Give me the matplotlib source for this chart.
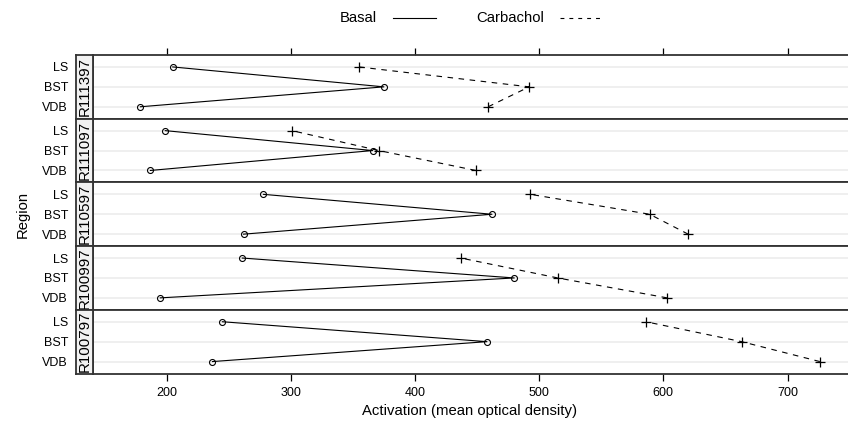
import matplotlib
matplotlib.use("Agg")
import matplotlib.pyplot as plt
from matplotlib.lines import Line2D

plt.rcParams['font.family'] = ['Liberation Sans', 'DejaVu Sans']

# ---- data ----
regions = ["VDB", "BST", "LS"]          # bottom to top within each panel
animals = ["R111397", "R111097", "R110597", "R100997", "R100797"]  # top to bottom
treatments = ["Basal", "Carbachol"]

# values ordered as regions (VDB, BST, LS)
basal = {
    "R111397": [179, 375, 205],
    "R111097": [187, 366, 199],
    "R110597": [262, 462, 278],
    "R100997": [195, 480, 261],
    "R100797": [237, 458, 245],
}
carbachol = {
    "R111397": [459, 492, 355],
    "R111097": [449, 371, 301],
    "R110597": [620, 589, 493],
    "R100997": [603, 515, 437],
    "R100797": [726, 663, 586],
}
xticks = [200, 300, 400, 500, 600, 700]

# ---- layout ----
W, H = 848, 424
fig = plt.figure(figsize=(W / 100, H / 100), dpi=100)

panel_left = 93
panel_right = 860
strip_left = 75.7
top = 55.0
ph = 63.7
px_per_unit = 1.242
x0 = 140.8
x1 = x0 + (panel_right - panel_left) / px_per_unit

frame_col = "#333333"
grid_col = "#eeeeee"
ypos = list(range(1, len(regions) + 1))

for i, an in enumerate(animals):
    yb = H - (top + ph * (i + 1))
    ax = fig.add_axes([panel_left / W, yb / H, (panel_right - panel_left) / W, ph / H])
    sx = fig.add_axes([strip_left / W, yb / H, (panel_left - strip_left) / W, ph / H])

    ax.set_xlim(x0, x1)
    ax.set_ylim(0.4, len(regions) + 0.6)
    for y in ypos:
        ax.axhline(y, color=grid_col, lw=1.3, zorder=0)
    ax.plot(basal[an], ypos, color="black", lw=0.8, marker="o", ms=4.3,
            mfc="none", mec="black", mew=0.8, zorder=3)
    ax.plot(carbachol[an], ypos, color="black", lw=0.8, dashes=(5, 5),
            marker="+", ms=7, mew=0.9, zorder=3)
    ax.set_yticks([])
    for s in ax.spines.values():
        s.set_color(frame_col)
        s.set_linewidth(1.3)
    ax.spines['right'].set_visible(False)
    ax.set_xticks(xticks)
    if i == 0:
        ax.tick_params(axis='x', which='both', top=True, bottom=False,
                       labeltop=False, labelbottom=False, direction='out',
                       length=5, width=0.9, color='black')
    elif i == len(animals) - 1:
        ax.tick_params(axis='x', which='both', top=False, bottom=True,
                       labelbottom=True, direction='out', length=5,
                       width=0.9, color='black', labelsize=9, pad=5)
    else:
        ax.tick_params(axis='x', which='both', top=False, bottom=False,
                       labelbottom=False)

    # strip
    sx.set_facecolor("#f2f2f2")
    sx.set_xlim(0, 1)
    sx.set_ylim(0.4, len(regions) + 0.6)
    sx.set_xticks([])
    sx.set_yticks(ypos)
    sx.set_yticklabels(regions)
    sx.tick_params(axis='y', length=0, pad=5.5, labelsize=9)
    for s in sx.spines.values():
        s.set_color(frame_col)
        s.set_linewidth(1.3)
    sx.text(0.5, (len(regions) + 1) / 2, an, rotation=90, ha='center',
            va='center', fontsize=10.9, color='black')

# axis labels
fig.text(470 / W, 1 - 411 / H, "Activation (mean optical density)",
         ha='center', va='center', fontsize=10.7)
fig.text(23 / W, 1 - 214 / H, "Region", rotation=90, ha='center',
         va='center', fontsize=10.7)

# legend
ly = 1 - 18 / H
fig.text(358 / W, ly, treatments[0], ha='center', va='center', fontsize=10.7)
fig.add_artist(Line2D([393 / W, 436 / W], [ly, ly], color='black', lw=0.8,
                      transform=fig.transFigure))
fig.text(510 / W, ly, treatments[1], ha='center', va='center', fontsize=10.7)
fig.add_artist(Line2D([560 / W, 603 / W], [ly, ly], color='black', lw=0.8,
                      dashes=(3.5, 4.5), transform=fig.transFigure))

fig.savefig("out.png", dpi=100)
